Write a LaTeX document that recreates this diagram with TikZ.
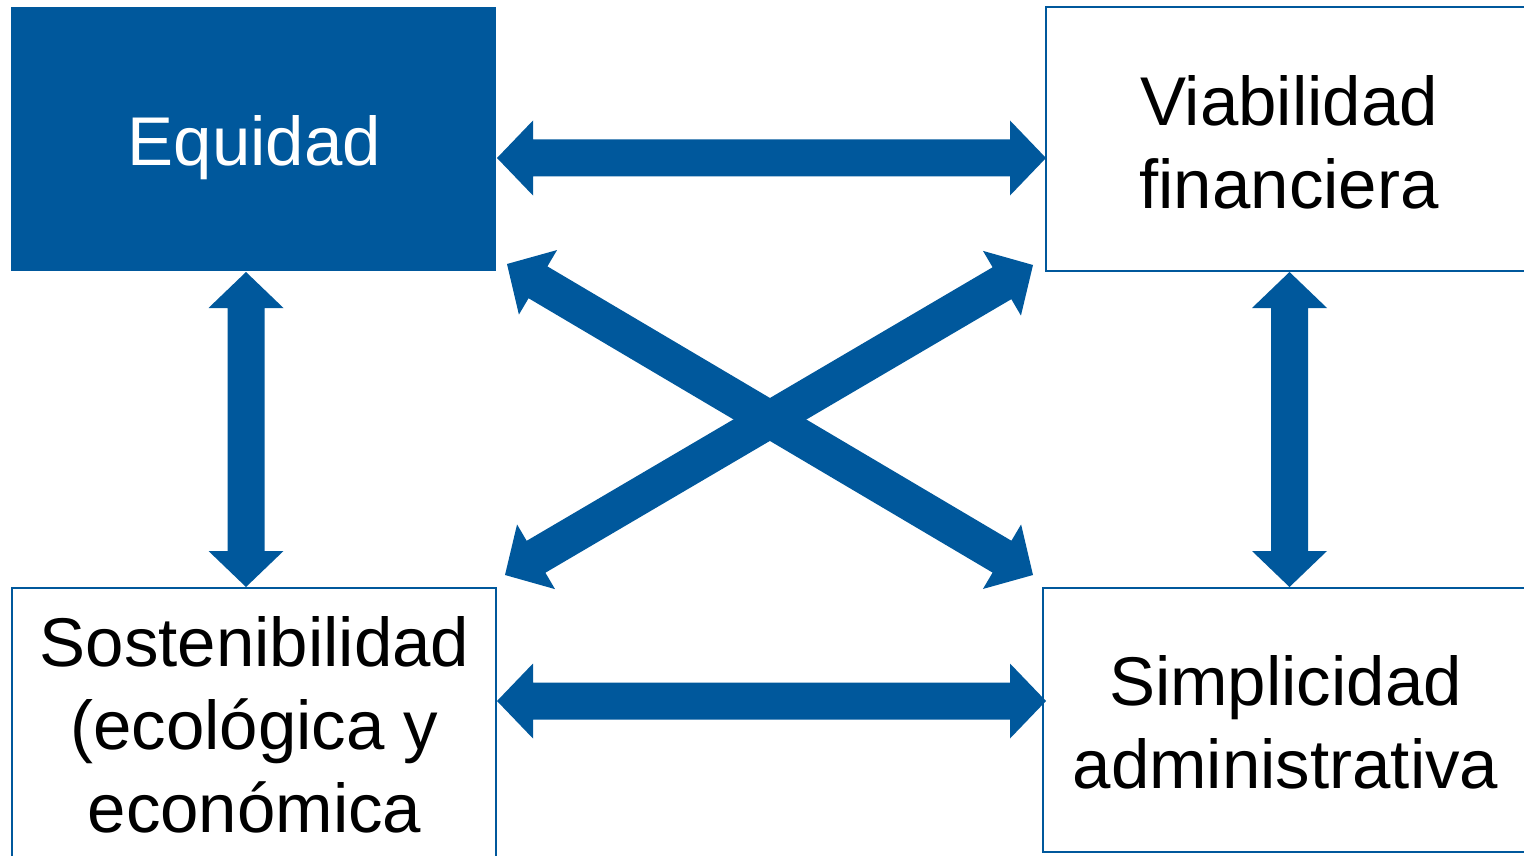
\documentclass[tikz,border=0pt]{standalone}
\usepackage{fontspec}
\setmainfont{Liberation Sans}
\usetikzlibrary{calc}
\definecolor{mblue}{RGB}{0,88,156}
\newcommand\dblarr[2]{%
  \coordinate (dA) at (#1);
  \coordinate (dB) at (#2);
  \coordinate (dA1) at ($(dA)!36pt!(dB)$);
  \coordinate (dB1) at ($(dB)!36pt!(dA)$);
  \fill[mblue] (dA) -- ($(dA1)!37.5pt!90:(dB)$) -- ($(dA1)!18.5pt!90:(dB)$)
    -- ($(dB1)!18.5pt!-90:(dA)$) -- ($(dB1)!37.5pt!-90:(dA)$) -- (dB)
    -- ($(dB1)!37.5pt!90:(dA)$) -- ($(dB1)!18.5pt!90:(dA)$)
    -- ($(dA1)!18.5pt!-90:(dB)$) -- ($(dA1)!37.5pt!-90:(dB)$) -- cycle;
}
\begin{document}
\begin{tikzpicture}[x=1pt,y=-1pt,
  box/.style={draw=mblue,line width=1.5pt,rectangle,inner sep=0pt},
  fbox/.style={fill=mblue,rectangle,inner sep=0pt},
  txt/.style={font=\fontsize{69}{83}\selectfont,align=center,inner sep=0pt},
]
\useasboundingbox (0,0) rectangle (1524,856);
% boxes
\node[fbox,minimum width=485pt,minimum height=264pt] (eq) at (253.5,139) {};
\node[box,minimum width=482pt,minimum height=264pt] (vf) at (1287,139) {};
\node[box,minimum width=484pt,minimum height=276pt] (so) at (254,726) {};
\node[box,minimum width=485pt,minimum height=264pt] (si) at (1285.5,720) {};
% texts
\node[txt,text=white,anchor=base] (eqt) at (254.5,165) {Equidad};
\node[txt] (vft) at (1289,142) {Viabilidad\\financiera};
\node[txt] (sot) at (254.5,724.5) {Sostenibilidad\\(ecológica y\\económica};
\node[txt] (sit) at (1285.5,722.5) {Simplicidad\\administrativa};
% arrow end points
\coordinate (h1a) at (497,158);  \coordinate (h1b) at (1046,158);
\coordinate (h2a) at (497,701);  \coordinate (h2b) at (1046,701);
\coordinate (v1a) at (246,272);  \coordinate (v1b) at (246,587);
\coordinate (v2a) at (1289.5,272); \coordinate (v2b) at (1289.5,587);
\coordinate (d1a) at (507,264);  \coordinate (d1b) at (1033,575);
\coordinate (d2a) at (1033,265); \coordinate (d2b) at (505,575);
% arrows
\dblarr{h1a}{h1b}
\dblarr{h2a}{h2b}
\dblarr{v1a}{v1b}
\dblarr{v2a}{v2b}
\dblarr{d1a}{d1b}
\dblarr{d2a}{d2b}
\end{tikzpicture}
\end{document}
